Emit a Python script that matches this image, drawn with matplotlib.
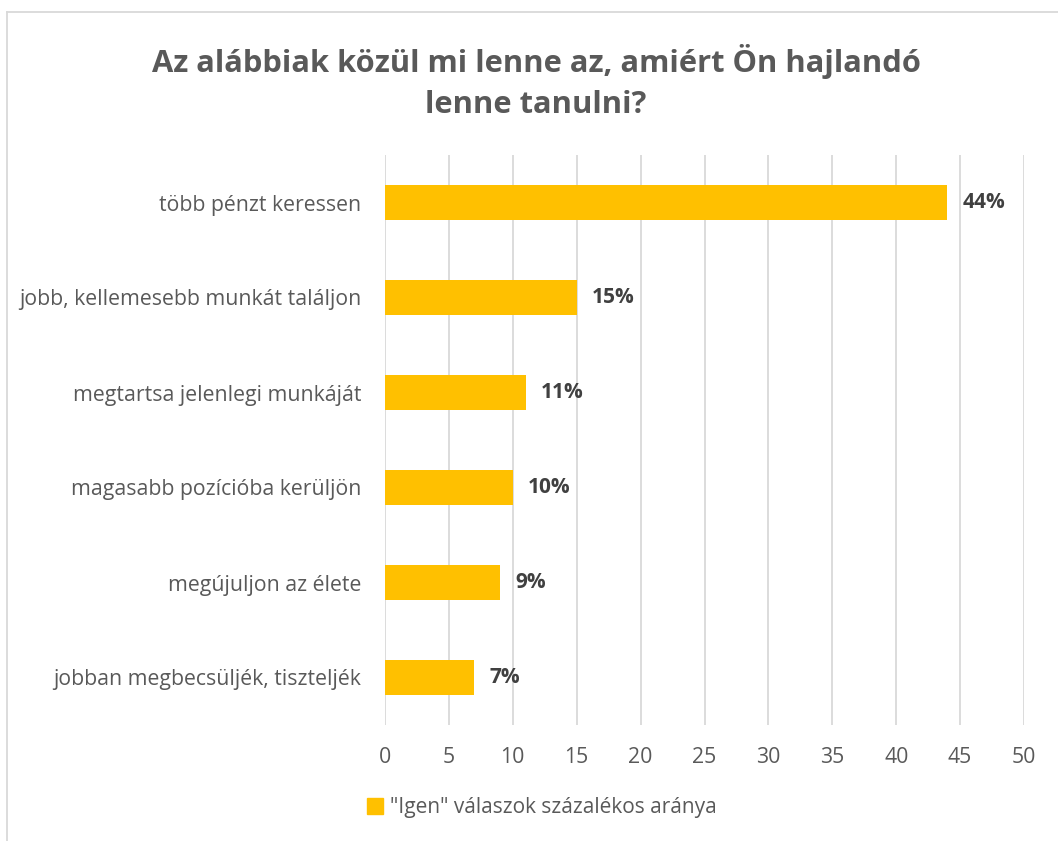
import matplotlib
matplotlib.use("Agg")
import matplotlib.pyplot as plt
from matplotlib.lines import Line2D

categories = ["több pénzt keressen", "jobb, kellemesebb munkát találjon",
              "megtartsa jelenlegi munkáját", "magasabb pozícióba kerüljön",
              "megújuljon az élete", "jobban megbecsüljék, tiszteljék"]
values = [44, 15, 11, 10, 9, 7]
xticks = [0, 5, 10, 15, 20, 25, 30, 35, 40, 45, 50]
title = "Az alábbiak közül mi lenne az, amiért Ön hajlandó\nlenne tanulni?"
legend_label = "\"Igen\" válaszok százalékos aránya"

plt.rcParams['font.family'] = ['Open Sans', 'DejaVu Sans']
W, H = 1058, 841
fig = plt.figure(figsize=(W/100, H/100), dpi=100)
ax = fig.add_axes([385/W, 1-725/H, (1024-385)/W, (725-155)/H])

y = list(range(len(categories)))
ax.barh(y, values, height=0.36, color="#FFC000", zorder=3)
for yi, v in zip(y, values):
    ax.text(v + 1.2, yi, f"{v}%", va="center", ha="left", fontsize=15,
            fontweight="bold", color="#404040")
ax.set_xlim(0, 50)
ax.set_ylim(len(categories) - 0.5, -0.5)
ax.set_xticks(xticks)
ax.set_yticks(y)
ax.set_yticklabels(categories)
ax.tick_params(axis="both", length=0, labelsize=15.3, colors="#595959")
ax.tick_params(axis="x", pad=16)
ax.tick_params(axis="y", pad=17)
ax.grid(axis="x", color="#D9D9D9", linewidth=1.3, zorder=0)
for s in ax.spines.values():
    s.set_visible(False)

fig.text(536/W, 1-82/H, title, ha="center", va="center", fontsize=22.2,
         fontweight="bold", color="#595959", linespacing=1.45)

handle = Line2D([], [], marker="s", linestyle="none", markersize=12,
                color="#FFC000")
fig.legend([handle], [legend_label], loc="center", bbox_to_anchor=(541/W, 1-808/H),
           frameon=False, fontsize=15, labelcolor="#595959", handletextpad=0.3,
           handlelength=0.9)

# chart border (left and top edges visible)
fig.add_artist(Line2D([7/W, 7/W], [0, 1-12/H], transform=fig.transFigure,
                      color="#D9D9D9", linewidth=1.3))
fig.add_artist(Line2D([7/W, 1], [1-12/H, 1-12/H], transform=fig.transFigure,
                      color="#D9D9D9", linewidth=1.3))

fig.savefig("out.png", dpi=100)
